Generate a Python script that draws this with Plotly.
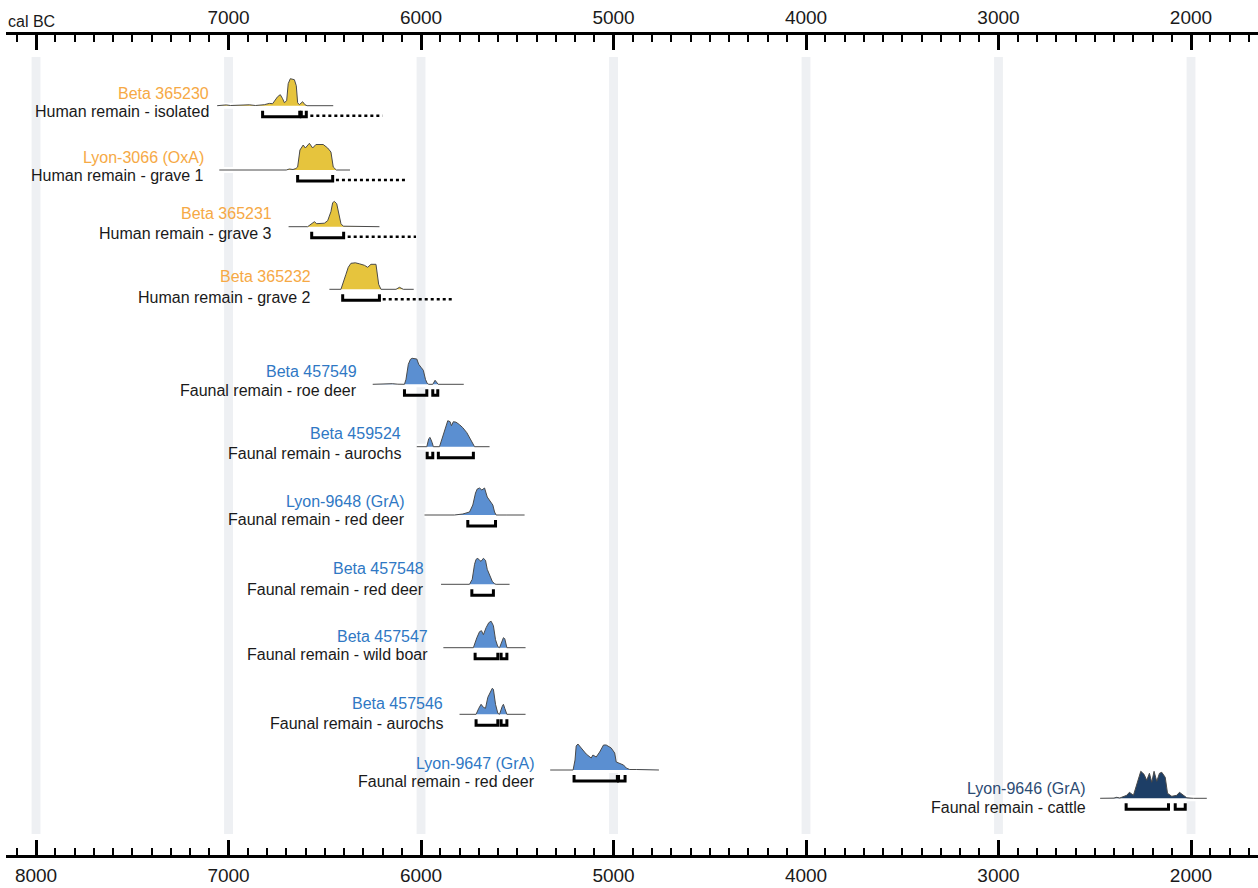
import plotly.graph_objects as go

# ---------------- axis data ----------------
YEAR_LEFT = 8156
YEAR_RIGHT = 1652
TICK_YEARS = [8000, 7000, 6000, 5000, 4000, 3000, 2000]
TICK_LABELS_BOTTOM = ["8000", "7000", "6000", "5000", "4000", "3000", "2000"]
TICK_LABELS_TOP = ["", "7000", "6000", "5000", "4000", "3000", "2000"]
AXIS_TITLE = "cal BC"

# ---------------- samples ----------------
SAMPLE_IDS = ["Beta 365230", "Lyon-3066 (OxA)", "Beta 365231", "Beta 365232",
              "Beta 457549", "Beta 459524", "Lyon-9648 (GrA)", "Beta 457548",
              "Beta 457547", "Beta 457546", "Lyon-9647 (GrA)", "Lyon-9646 (GrA)"]
SAMPLE_DESC = ["Human remain - isolated", "Human remain - grave 1", "Human remain - grave 3",
               "Human remain - grave 2", "Faunal remain - roe deer", "Faunal remain - aurochs",
               "Faunal remain - red deer", "Faunal remain - red deer", "Faunal remain - wild boar",
               "Faunal remain - aurochs", "Faunal remain - red deer", "Faunal remain - cattle"]
SAMPLE_GROUP = ["human"] * 4 + ["fauna"] * 7 + ["cattle"]

# calibrated probability curves (cal BC, relative probability)
beta365230_years = [7059, 7030, 7012, 6990, 6944, 6920, 6892, 6860, 6820, 6814, 6788, 6771, 6745, 6731,
                    6719, 6710, 6698, 6690, 6679, 6658, 6648, 6641, 6632, 6615, 6603, 6592, 6456]
beta365230_prob = [0, 0.2, 0.8, 0.2, 0.6, 0.2, 0.9, 0.2, 0.3, 1, 2.3, 2, 9, 11,
                   7, 3, 5, 22, 27, 26, 20, 3, 1, 4, 1, 0, 0]

lyon3066_years = [7048, 6700, 6684, 6665, 6650, 6641, 6629, 6612, 6601, 6580, 6563, 6546, 6508,
                  6485, 6468, 6456, 6440, 6369]
lyon3066_prob = [0, 0, 1, 0.5, 1.5, 3, 20, 25, 22, 26.7, 22, 25.5, 25.5, 22, 18, 3, 0, 0]

beta365231_years = [6688, 6589, 6566, 6554, 6542, 6502, 6485, 6468, 6459, 6450, 6438, 6428, 6416, 6404, 6216]
beta365231_prob = [0, 0, 3.3, 5, 3, 3.5, 6, 15, 24, 25.3, 23, 12, 3, 0.5, 0]

beta365232_years = [6476, 6416, 6390, 6378, 6364, 6341, 6320, 6294, 6277, 6260, 6234, 6220, 6208,
                    6130, 6112, 6092, 6038]
beta365232_prob = [0, 0, 15, 22, 26, 26.5, 25.5, 24, 22, 25, 25, 5, 0, 0, 2, 0, 0]

beta457549_years = [6251, 6215, 6201, 6185, 6160, 6149, 6120, 6086, 6078, 6066, 6055, 6046, 6022,
                    6012, 6000, 5988, 5977, 5968, 5960, 5939, 5927, 5916, 5911, 5778]
beta457549_prob = [0, 0.2, 0.6, 0.2, 0.4, 0.6, 0.1, 0, 5, 20, 25, 26, 25.3, 20, 17, 14, 5, 1, 0,
                   0, 4, 1, 0, 0]

beta459524_years = [6022, 5970, 5960, 5953, 5942, 5936, 5904, 5887, 5873, 5861, 5849, 5842, 5832,
                    5818, 5800, 5783, 5762, 5745, 5731, 5722, 5644]
beta459524_prob = [0, 0, 8, 9.3, 4, 0, 0, 10, 20, 26, 25, 21, 25, 24.5, 22, 19, 14, 8, 2, 0, 0]

lyon9648_years = [5982, 5826, 5783, 5748, 5731, 5717, 5708, 5696, 5684, 5670, 5656, 5641, 5627,
                  5618, 5610, 5590, 5566, 5558, 5462]
lyon9648_prob = [0, 0, 1, 3, 10, 22, 26, 27, 25, 27, 18, 14, 10, 3, 0, 0, 0.5, 0, 0]

beta457548_years = [5896, 5748, 5734, 5722, 5714, 5705, 5696, 5688, 5676, 5665, 5656, 5644, 5630,
                    5618, 5610, 5540]
beta457548_prob = [0, 0, 5, 20, 25, 26, 24, 23, 26, 24, 15, 10, 3, 0.5, 0, 0]

beta457547_years = [5884, 5728, 5710, 5696, 5686, 5676, 5662, 5648, 5636, 5624, 5613, 5601, 5592,
                    5580, 5572, 5565, 5554, 5457]
beta457547_prob = [0, 0, 10, 16, 17, 13, 20, 25, 26.5, 22, 8, 1, 0, 5, 10, 9, 0, 0]

beta457546_years = [5800, 5714, 5700, 5688, 5676, 5665, 5653, 5641, 5630, 5624, 5613, 5601, 5592,
                    5578, 5572, 5565, 5554, 5457]
beta457546_prob = [0, 0, 6, 10, 7, 6, 17, 22, 26, 25, 10, 1, 0, 8, 10, 6, 0, 0]

lyon9647_years = [5329, 5210, 5200, 5194, 5185, 5168, 5142, 5116, 5107, 5090, 5072, 5052, 5038,
                  5012, 4994, 4986, 4965, 4948, 4934, 4916, 4880, 4849, 4820, 4764]
lyon9647_prob = [0, 0, 10, 24, 26, 22, 16, 12, 15, 13, 18, 25, 25, 22, 17, 8, 6, 5, 2, 0.5, 0.5,
                 0.2, 0, 0]

lyon9646_years = [2472, 2400, 2386, 2370, 2334, 2320, 2299, 2282, 2261, 2244, 2230, 2216, 2204,
                  2192, 2178, 2164, 2152, 2134, 2122, 2100, 2074, 2060, 2039, 2022, 1987, 1918]
lyon9646_prob = [0, 0.2, 1, 0.3, 3, 6, 3, 13, 27, 24, 18, 25, 16, 27, 17, 25, 26, 21, 5, 2, 3, 6,
                 3, 0.5, 0, 0]

CURVE_YEARS = [beta365230_years, lyon3066_years, beta365231_years, beta365232_years,
               beta457549_years, beta459524_years, lyon9648_years, beta457548_years,
               beta457547_years, beta457546_years, lyon9647_years, lyon9646_years]
CURVE_PROB = [beta365230_prob, lyon3066_prob, beta365231_prob, beta365232_prob,
              beta457549_prob, beta459524_prob, lyon9648_prob, beta457548_prob,
              beta457547_prob, beta457546_prob, lyon9647_prob, lyon9646_prob]

# 95% ranges (cal BC)
HPD_RANGES = [
    [(6823, 6630), (6622, 6596)],
    [(6641, 6459)],
    [(6568, 6402)],
    [(6407, 6216)],
    [(6086, 5970), (5939, 5913)],
    [(5968, 5939), (5910, 5728)],
    [(5757, 5613)],
    [(5736, 5624)],
    [(5719, 5601), (5584, 5554)],
    [(5714, 5601), (5584, 5554)],
    [(5205, 4980), (4974, 4940)],
    [(2337, 2117), (2082, 2030)],
]
# dotted extension (cal BC)
EXTENSIONS = [(6575, 6200), (6442, 6078), (6381, 6026), (6199, 5835),
              None, None, None, None, None, None, None, None]

# ---------------- layout positions (pixels in plot space) ----------------
ROW_Y = [105.7, 170, 226.7, 289.3, 384.3, 446.7, 515, 584.3, 647.7, 714.3, 770, 798.3]
NAME_Y = [93, 157, 213, 276, 371, 433, 501, 568, 636, 703, 763, 788]
DESC_Y = [111, 175, 233, 297, 390, 453, 519, 589, 654, 723, 781, 807]
LABEL_RIGHT = [7092, 7116, 6762, 6563, 6320, 6095, 6071, 5972, 5953, 5878, 5400, 2533]

FILL = {"human": "#E6C43D", "fauna": "#5B8FD1", "cattle": "#1D3E66"}
NAME_COLOR = {"human": "#F6A945", "fauna": "#2F78C4", "cattle": "#2C4B73"}
FONT = "Liberation Sans, Arial, sans-serif"

fig = go.Figure()

for i in range(len(SAMPLE_IDS)):
    b = ROW_Y[i]
    yrs = CURVE_YEARS[i]
    pr = CURVE_PROB[i]
    g = SAMPLE_GROUP[i]
    # white halo along baseline
    fig.add_trace(go.Scatter(x=[yrs[0], yrs[-1]], y=[b, b], mode="lines",
                             line=dict(color="white", width=6), hoverinfo="skip", showlegend=False))
    fig.add_trace(go.Scatter(x=yrs, y=[b - p for p in pr], mode="lines", fill="toself",
                             fillcolor=FILL[g], line=dict(color="#4a4a4a", width=1),
                             hoverinfo="skip", showlegend=False))
    for (a, c) in HPD_RANGES[i]:
        fig.add_trace(go.Scatter(x=[a, a, c, c], y=[b + 5, b + 11, b + 11, b + 5], mode="lines",
                                 line=dict(color="black", width=3), hoverinfo="skip", showlegend=False))
    ext = EXTENSIONS[i]
    if ext is not None:
        fig.add_trace(go.Scatter(x=[ext[0], ext[1]], y=[b + 10, b + 10], mode="lines",
                                 line=dict(color="black", width=2.5, dash="dot"),
                                 hoverinfo="skip", showlegend=False))
    fig.add_annotation(x=LABEL_RIGHT[i], y=NAME_Y[i], xref="x", yref="y", text=SAMPLE_IDS[i],
                       showarrow=False, xanchor="right", yanchor="middle",
                       font=dict(family=FONT, size=16, color=NAME_COLOR[g]))
    fig.add_annotation(x=LABEL_RIGHT[i], y=DESC_Y[i], xref="x", yref="y", text=SAMPLE_DESC[i],
                       showarrow=False, xanchor="right", yanchor="middle",
                       font=dict(family=FONT, size=16, color="#1a1a1a"))

# invisible trace on top axis so it renders
fig.add_trace(go.Scatter(x=[5000], y=[400], xaxis="x2", mode="markers",
                         marker=dict(opacity=0), hoverinfo="skip", showlegend=False))

# grey bands at millennia
for yr in TICK_YEARS:
    fig.add_shape(type="rect", xref="x", yref="y", x0=yr + 23, x1=yr - 23, y0=57, y1=834,
                  fillcolor="#EEF0F3", line=dict(width=0), layer="below")

axis_common = dict(
    range=[YEAR_LEFT, YEAR_RIGHT], showline=True, linewidth=3, linecolor="black",
    ticks="inside", ticklen=15, tickwidth=3, tickcolor="black",
    tickmode="array", tickvals=TICK_YEARS,
    tickfont=dict(family=FONT, size=19, color="#1a1a1a"),
    showgrid=False, zeroline=False, fixedrange=True,
    minor=dict(tickmode="linear", tick0=0, dtick=100, ticks="inside", ticklen=7,
               tickwidth=1.5, tickcolor="black", showgrid=False),
)

fig.update_layout(
    width=1258, height=888,
    margin=dict(l=6, r=0, t=35, b=33),
    paper_bgcolor="white", plot_bgcolor="white",
    xaxis=dict(side="bottom", ticklabelstandoff=1, ticktext=TICK_LABELS_BOTTOM, **axis_common),
    xaxis2=dict(side="top", overlaying="x", ticklabelstandoff=0, ticktext=TICK_LABELS_TOP,
                **axis_common),
    yaxis=dict(range=[855, 35], visible=False, fixedrange=True),
    showlegend=False,
)

fig.add_annotation(x=0, xref="paper", y=1, yref="paper", yshift=14, text=AXIS_TITLE,
                   showarrow=False, xanchor="left", yanchor="middle",
                   font=dict(family=FONT, size=16, color="#1a1a1a"))

fig.write_html("out.html", config={"displayModeBar": False},
               post_script="document.body.style.margin='0';")
